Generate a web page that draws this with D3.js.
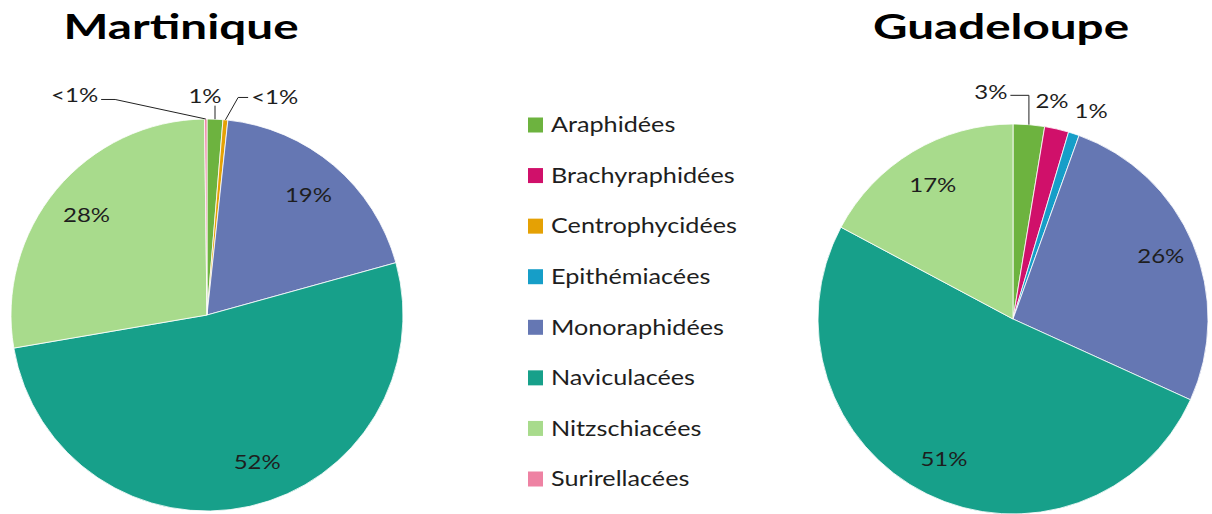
<!DOCTYPE html>
<html>
<head>
<meta charset="utf-8">
<script src="https://cdn.jsdelivr.net/npm/d3@7"></script>
<style>
  body { margin: 0; background: #fff; }
  svg { display: block; font-family: Lato, "Noto Sans", sans-serif; }
</style>
</head>
<body>
<script>
// families of diatoms, in legend order
const categories = ["Araphidées", "Brachyraphidées", "Centrophycidées", "Epithémiacées",
    "Monoraphidées", "Naviculacées", "Nitzschiacées", "Surirellacées"];
const colors = ["#6db33f", "#d0106a", "#e5a104", "#169ec8",
    "#6577b3", "#17a08a", "#a8db8c", "#ee82a3"];

// percentages
const martinique = [1.3, 0, 0.4, 0, 19.0, 51.6, 27.5, 0.2];
const guadeloupe = [2.6, 2.0, 0, 0.9, 26.3, 51.0, 17.2, 0];

const pies = [
    { title: "Martinique", values: martinique, cx: 207, cy: 315, r: 196, tx: 181 },
    { title: "Guadeloupe", values: guadeloupe, cx: 1013, cy: 319, r: 195, tx: 1001 }
];

// the original text is stretched sideways
const textStretch = 1.2;
const titleStretch = 1.4;

// small slices get their label outside, moved by hand like in the original
const outside = {
    Martinique: {
        "Araphidées": { dx: -11, dy: 0, leader: "down" },
        "Centrophycidées": { dx: 47, dy: 1, leader: "left" },
        "Surirellacées": { dx: -131, dy: 0, leader: "right" }
    },
    Guadeloupe: {
        "Araphidées": { dx: -40, dy: -9, leader: "corner" },
        "Brachyraphidées": { dx: -10, dy: -5 },
        "Epithémiacées": { dx: 10, dy: -1 }
    }
};
// best-fit shifts for a few inside labels
const inside = {
    Martinique: { "Naviculacées": { dx: 16, dy: -6 } },
    Guadeloupe: { "Monoraphidées": { dx: 4, dy: -2 } }
};

const width = 1212, height = 514;
const color = d3.scaleOrdinal().domain(categories).range(colors);

const svg = d3.select("body").append("svg")
    .attr("width", width)
    .attr("height", height);

function fmt(v) {
    return Math.round(v) < 1 ? "<1%" : Math.round(v) + "%";
}

pies.forEach(function (p) { drawPie(p); });
drawLegend();

function drawPie(p) {
    let rows = categories.map(function (c, i) { return { cat: c, value: p.values[i] }; });
    let pie = d3.pie().sort(null).value(function (d) { return d.value; });
    let arcs = pie(rows).filter(function (d) { return d.data.value > 0; });
    let arc = d3.arc().innerRadius(0).outerRadius(p.r);

    let g = svg.append("g").attr("transform", "translate(" + p.cx + "," + p.cy + ")");

    g.selectAll("path.slice")
        .data(arcs)
        .enter().append("path")
        .attr("class", "slice")
        .attr("d", arc)
        .attr("fill", function (d) { return color(d.data.cat); })
        .attr("stroke", "#fff")
        .attr("stroke-width", 0.8);

    let inner = d3.arc().innerRadius(p.r * 0.8).outerRadius(p.r * 0.8);
    let outer = d3.arc().innerRadius(p.r * 1.12).outerRadius(p.r * 1.12);
    let edge = d3.arc().innerRadius(p.r).outerRadius(p.r);
    let moves = outside[p.title];
    let shifts = inside[p.title];

    arcs.forEach(function (d) {
        let m = moves[d.data.cat];
        let pos;
        if (m) {
            let c = outer.centroid(d);
            pos = [c[0] + m.dx, c[1] + m.dy];
        } else {
            pos = inner.centroid(d);
            let s = shifts[d.data.cat];
            if (s) pos = [pos[0] + s.dx, pos[1] + s.dy];
        }
        let txt = g.append("text")
            .attr("transform", "translate(" + pos[0] + "," + pos[1] + ") scale(" + textStretch + ",1)")
            .attr("dy", "0.35em")
            .attr("text-anchor", "middle")
            .attr("font-size", 20)
            .attr("fill", "#1e1e1e")
            .text(fmt(d.data.value));

        if (m && m.leader) {
            let w = txt.node().getComputedTextLength() * textStretch;
            let s = edge.centroid(d);
            let pts;
            if (m.leader === "down") {
                pts = [s, [s[0], pos[1] + 10]];
            } else if (m.leader === "right") {
                let e = [pos[0] + w / 2 + 3, pos[1] + 4];
                pts = [s, [e[0] + 14, e[1]], e];
            } else if (m.leader === "left") {
                let e = [pos[0] - w / 2 - 3, pos[1]];
                pts = [s, [e[0] - 10, e[1]], e];
            } else {
                let e = [pos[0] + w / 2 + 3, pos[1] + 3];
                pts = [s, [s[0], e[1]], e];
            }
            g.append("path")
                .attr("d", d3.line()(pts))
                .attr("fill", "none")
                .attr("stroke", "#222")
                .attr("stroke-width", 1);
        }
    });

    svg.append("text")
        .attr("transform", "translate(" + p.tx + ",39) scale(" + titleStretch + ",1)")
        .attr("text-anchor", "middle")
        .attr("font-size", 34)
        .attr("font-weight", "bold")
        .attr("fill", "#000")
        .text(p.title);
}

function drawLegend() {
    let y = d3.scalePoint().domain(categories).range([125, 479]);
    let items = svg.append("g").selectAll("g")
        .data(categories)
        .enter().append("g")
        .attr("transform", function (d) { return "translate(528," + y(d) + ")"; });

    items.append("rect")
        .attr("x", 0)
        .attr("y", -7.5)
        .attr("width", 15)
        .attr("height", 15)
        .attr("fill", function (d) { return color(d); });

    items.append("text")
        .attr("transform", "translate(23,0) scale(" + textStretch + ",1)")
        .attr("dy", "0.35em")
        .attr("font-size", 21)
        .attr("fill", "#1e1e1e")
        .text(function (d) { return d; });
}
</script>
</body>
</html>
